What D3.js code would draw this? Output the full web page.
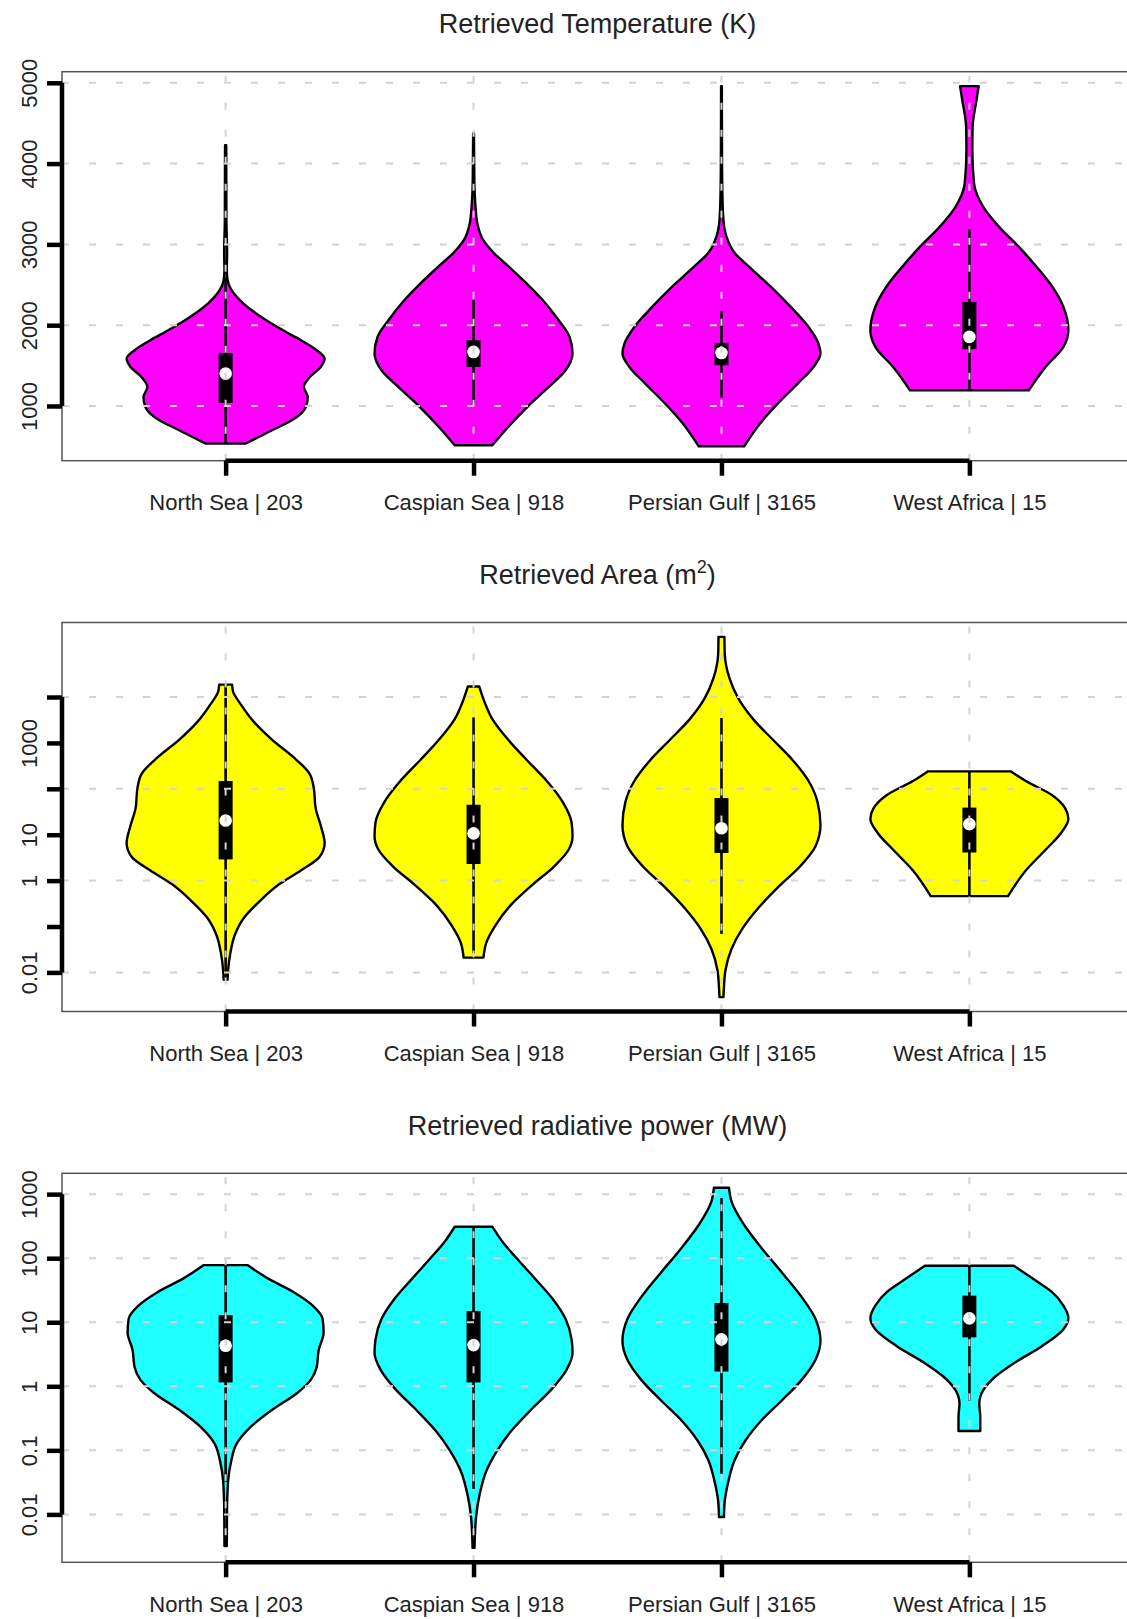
<!DOCTYPE html>
<html lang="en">
<head>
<meta charset="utf-8">
<title>Retrieved fire parameters</title>
<script src="https://cdn.jsdelivr.net/npm/d3@7"></script>
<style>
    body { margin: 0; background: #fff; }
    text { font-family: "Liberation Sans", Arial, Helvetica, sans-serif; fill: #222; }
</style>
</head>
<body>
<script>

    // categories (region | number of detections)
    var regions = ["North Sea | 203", "Caspian Sea | 918", "Persian Gulf | 3165", "West Africa | 15"];

    // violin profiles: [value, relative density (1 = widest)]
    var tempProfiles = [
        [[534, .2], [699, .47], [864, .72], [988, .81], [1111, .83], [1235, .79], [1359, .85], [1483, .96],
         [1587, 1], [1690, .92], [1814, .76], [1937, .58], [2102, .36], [2268, .18], [2433, .06], [2557, .02],
         [2680, .012], [2900, .015], [3300, .008], [4228, .006]],
        [[513, .19], [740, .35], [996, .55], [1235, .76], [1442, .93], [1650, 1], [1854, .97], [2061, .86],
         [2309, .7], [2500, .55], [2720, .36], [2900, .2], [3050, .1], [3250, .04], [3500, .018],
         [3800, .008], [4373, .004]],
        [[501, .23], [782, .39], [1030, .57], [1277, .77], [1483, .93], [1649, 1], [1773, .98], [1978, .88],
         [2226, .7], [2474, .5], [2721, .28], [2900, .13], [3100, .05], [3300, .02], [3600, .01],
         [4000, .006], [4959, .004]],
        [[1194, .6], [1483, .77], [1731, .95], [1937, 1], [2226, .95], [2474, .84], [2721, .68], [2969, .5],
         [3217, .3], [3464, .14], [3754, .047], [4167, .03], [4455, .033], [4786, .072], [4959, .094]]
    ];
    // [lower whisker, q1, median, q3, upper whisker]
    var tempStats = [
        [534, 1037, 1401, 1656, 2585],
        [1030, 1483, 1669, 1814, 2310],
        [1104, 1504, 1656, 1780, 2176],
        [1194, 1702, 1855, 2288, 3184]
    ];
    var tempTicks = [1000, 2000, 3000, 4000, 5000];
    var tempTickLabels = ["1000", "2000", "3000", "4000", "5000"];
    var tempGrid = [1000, 2000, 3000, 4000, 5000];

    var areaProfiles = [
        [[0.0069, .02], [0.011, .025], [0.026, .047], [0.063, .09], [0.15, .18], [0.35, .34], [0.83, .54],
         [1.66, .76], [3.3, .95], [6.6, 1], [16, .96], [37, .91], [105, .89], [210, .85], [500, .68],
         [1170, .47], [2800, .29], [6600, .16], [13200, .075], [18600, .065]],
        [[0.021, .1], [0.045, .13], [0.105, .22], [0.30, .38], [0.83, .6], [2.0, .81], [4.7, .96], [9.3, 1],
         [18.6, .99], [52, .9], [148, .74], [420, .54], [1170, .35], [3300, .19], [7900, .11], [17000, .057]],
        [[0.0029, .02], [0.0047, .025], [0.011, .04], [0.032, .1], [0.089, .21], [0.25, .37], [0.71, .57],
         [2.0, .79], [5.6, .95], [16, 1], [52, .97], [148, .88], [420, .72], [1170, .52], [3300, .32],
         [9300, .17], [26000, .08], [89000, .033], [204000, .03]],
        [[0.46, .39], [1.66, .57], [4.7, .77], [11.2, .93], [22, 1], [37, .97], [74, .83], [148, .57], [240, .42]]
    ];
    var areaStats = [
        [0.0069, 2.9, 20.4, 148, 18600],
        [0.026, 2.3, 10.7, 45, 3600],
        [0.069, 4.0, 13.8, 63, 3500],
        [0.46, 4.1, 17, 39, 240]
    ];
    var areaTicks = [0.01, 0.1, 1, 10, 100, 1000, 10000];
    var areaTickLabels = ["0.01", "", "1", "10", "", "1000", ""];
    var areaGrid = [0.01, 1, 100, 10000];

    var powerProfiles = [
        [[0.0032, .012], [0.011, .014], [0.033, .025], [0.069, .057], [0.126, .11], [0.23, .25], [0.43, .47],
         [0.78, .72], [1.26, .86], [2.0, .92], [3.7, .94], [6.9, .99], [11.2, .98], [18.2, .88], [30, .68],
         [48, .43], [78, .22]],
        [[0.0030, .01], [0.0089, .025], [0.020, .06], [0.048, .13], [0.10, .24], [0.20, .38], [0.43, .58],
         [0.87, .78], [1.82, .94], [3.3, 1], [5.4, .99], [11.2, .93], [23, .8], [48, .62], [98, .44],
         [182, .29], [310, .19]],
        [[0.0091, .025], [0.016, .033], [0.033, .07], [0.069, .13], [0.141, .24], [0.30, .41], [0.60, .61],
         [1.26, .81], [2.6, .95], [5.1, 1], [11.2, .95], [26, .8], [60, .61], [141, .41], [330, .23],
         [780, .1], [1260, .076]],
        [[0.20, .11], [0.33, .11], [0.54, .1], [0.87, .14], [1.41, .26], [2.3, .45], [4.3, .74], [7.8, .95],
         [11.7, 1], [18.2, .95], [30, .83], [48, .64], [76, .45]]
    ];
    var powerStats = [
        [0.032, 1.15, 4.3, 12.9, 78],
        [0.025, 1.15, 4.4, 15, 310],
        [0.043, 1.7, 5.4, 20, 870],
        [0.60, 5.8, 11.5, 26, 76]
    ];
    var powerTicks = [0.01, 0.1, 1, 10, 100, 1000];
    var powerTickLabels = ["0.01", "0.1", "1", "10", "100", "1000"];
    var powerGrid = [0.01, 0.1, 1, 10, 100, 1000];

    var panels = [
        {title: ["Retrieved Temperature (K)"], log: false, profiles: tempProfiles, stats: tempStats,
         ticks: tempTicks, labels: tempTickLabels, grid: tempGrid, fill: "#ff00ff"},
        {title: ["Retrieved Area (m", "2", ")"], log: true, profiles: areaProfiles, stats: areaStats,
         ticks: areaTicks, labels: areaTickLabels, grid: areaGrid, fill: "#ffff00"},
        {title: ["Retrieved radiative power (MW)"], log: true, profiles: powerProfiles, stats: powerStats,
         ticks: powerTicks, labels: powerTickLabels, grid: powerGrid, fill: "#20ffff"}
    ];

    var w = 1127, h = 1619;
    var left = 62, right = 1133, plotH = 389, firstTop = 71.7, step = 550.8;

    var svg = d3.select("body").append("svg")
        .attr("width", w)
        .attr("height", h);

    var xScale = d3.scalePoint()
        .domain(regions)
        .range([left, right])
        .padding(0.66);

    var wScale = d3.scaleLinear().domain([0, 1]).range([0, 99]);

    //R style range: data extent plus 4% each side
    function paddedDomain(vals, isLog) {
        var t = isLog ? vals.map(Math.log10) : vals;
        var lo = d3.min(t), hi = d3.max(t), r = hi - lo;
        lo -= 0.04 * r;
        hi += 0.04 * r;
        return isLog ? [Math.pow(10, lo), Math.pow(10, hi)] : [lo, hi];
    }

    panels.forEach(function (p, i) {
        var top = firstTop + i * step,
            bottom = top + plotH;

        var allVals = [];
        p.profiles.forEach(function (pr) { pr.forEach(function (d) { allVals.push(d[0]); }); });
        p.stats.forEach(function (s) { allVals = allVals.concat(s); });

        var yScale = (p.log ? d3.scaleLog() : d3.scaleLinear())
            .domain(paddedDomain(allVals, p.log))
            .range([bottom, top]);

        var g = svg.append("g");

        //violins
        p.profiles.forEach(function (pr, j) {
            var cx = xScale(regions[j]);
            var area = d3.area()
                .y(function (d) { return yScale(d[0]); })
                .x0(function (d) { return cx - wScale(d[1]); })
                .x1(function (d) { return cx + wScale(d[1]); })
                .curve(d3.curveMonotoneY);

            g.append("path")
                .datum(pr)
                .attr("d", area)
                .attr("fill", p.fill)
                .attr("stroke", "#000")
                .attr("stroke-width", 2.4)
                .attr("stroke-linejoin", "round");
        });

        //whiskers, boxes, medians
        g.selectAll(".whisker")
            .data(p.stats)
            .enter()
            .append("line")
            .attr("x1", function (d, j) { return xScale(regions[j]); })
            .attr("x2", function (d, j) { return xScale(regions[j]); })
            .attr("y1", function (d) { return yScale(d[0]); })
            .attr("y2", function (d) { return yScale(d[4]); })
            .attr("stroke", "#000")
            .attr("stroke-width", 2.6);

        g.selectAll(".iqr")
            .data(p.stats)
            .enter()
            .append("rect")
            .attr("x", function (d, j) { return xScale(regions[j]) - 7; })
            .attr("width", 14)
            .attr("y", function (d) { return yScale(d[3]); })
            .attr("height", function (d) { return yScale(d[1]) - yScale(d[3]); })
            .attr("fill", "#000");

        g.selectAll(".med")
            .data(p.stats)
            .enter()
            .append("circle")
            .attr("cx", function (d, j) { return xScale(regions[j]); })
            .attr("cy", function (d) { return yScale(d[2]); })
            .attr("r", 6.3)
            .attr("fill", "#fff");

        //grid drawn over the violins
        g.selectAll(".hgrid")
            .data(p.grid)
            .enter()
            .append("line")
            .attr("x1", left)
            .attr("x2", right)
            .attr("y1", function (d) { return yScale(d); })
            .attr("y2", function (d) { return yScale(d); })
            .attr("stroke", "#d3d3d3")
            .attr("stroke-width", 2)
            .attr("stroke-dasharray", "7,20");

        g.selectAll(".vgrid")
            .data(regions)
            .enter()
            .append("line")
            .attr("x1", function (d) { return xScale(d); })
            .attr("x2", function (d) { return xScale(d); })
            .attr("y1", bottom)
            .attr("y2", top)
            .attr("stroke", "#d3d3d3")
            .attr("stroke-width", 2)
            .attr("stroke-dasharray", "7,20");

        //plot frame
        g.append("rect")
            .attr("x", left)
            .attr("y", top)
            .attr("width", right - left)
            .attr("height", plotH)
            .attr("fill", "none")
            .attr("stroke", "#555")
            .attr("stroke-width", 1.5);

        //y axis
        var yAxis = d3.axisLeft(yScale)
            .tickValues(p.ticks)
            .tickSize(15)
            .tickPadding(10)
            .tickFormat(function (d, k) { return p.labels[k]; });

        var ya = g.append("g")
            .attr("transform", "translate(" + left + ",0)")
            .call(yAxis);
        ya.select(".domain").remove();
        ya.selectAll(".tick line").attr("stroke", "#000").attr("stroke-width", 4.5);
        ya.selectAll(".tick text")
            .attr("x", null).attr("dy", null)
            .attr("transform", "translate(-25.5,0) rotate(-90)")
            .attr("text-anchor", "middle")
            .style("font-size", "22px")
            .style("font-family", null)
            .attr("fill", null);
        ya.append("line")
            .attr("x1", 0).attr("x2", 0)
            .attr("y1", yScale(p.ticks[0]))
            .attr("y2", yScale(p.ticks[p.ticks.length - 1]))
            .attr("stroke", "#000")
            .attr("stroke-width", 4.5);

        //x axis
        var xAxis = d3.axisBottom(xScale)
            .tickSize(15)
            .tickPadding(20);

        var xa = g.append("g")
            .attr("transform", "translate(0," + bottom + ")")
            .call(xAxis);
        xa.select(".domain").remove();
        xa.selectAll(".tick line").attr("stroke", "#000").attr("stroke-width", 4.5);
        xa.selectAll(".tick text")
            .attr("dy", null)
            .attr("y", 49.5)
            .style("font-size", "22px")
            .style("font-family", null)
            .attr("fill", null);
        xa.append("line")
            .attr("x1", xScale(regions[0]))
            .attr("x2", xScale(regions[regions.length - 1]))
            .attr("y1", 0).attr("y2", 0)
            .attr("stroke", "#000")
            .attr("stroke-width", 4.5);

        //title
        var t = svg.append("text")
            .attr("x", (left + right) / 2)
            .attr("y", top - 38.7)
            .attr("text-anchor", "middle")
            .style("font-size", "27px");
        t.append("tspan").text(p.title[0]);
        if (p.title.length > 1) {
            t.append("tspan").attr("dy", -11).style("font-size", "18px").text(p.title[1]);
            t.append("tspan").attr("dy", 11).text(p.title[2]);
        }
    });

</script>
</body>
</html>
